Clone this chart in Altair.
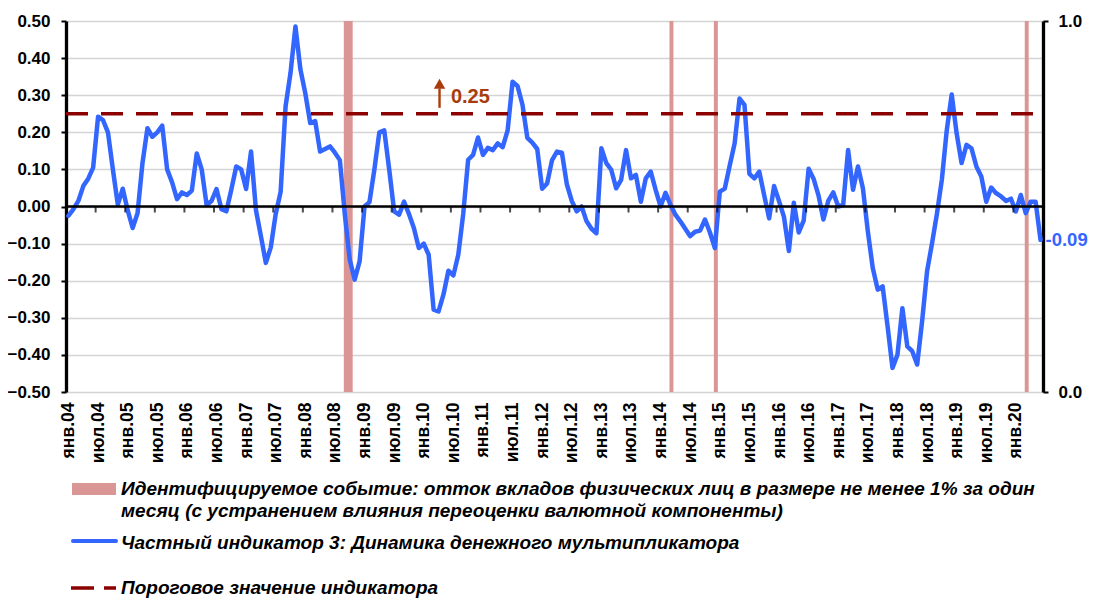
import json
import numpy as np
import pandas as pd
import altair as alt

# ---------------- data ----------------
start_month = "2004-01"

multiplier = [
    -0.025, -0.007, 0.015, 0.055, 0.075, 0.105, 0.242, 0.233, 0.200, 0.100, 0.005, 0.048,   # 2004
    -0.010, -0.058, -0.018, 0.117, 0.211, 0.188, 0.200, 0.218, 0.100, 0.065, 0.020, 0.038,  # 2005
    0.031, 0.043, 0.143, 0.100, 0.004, 0.015, 0.047, -0.007, -0.013, 0.045, 0.108, 0.100,   # 2006
    0.047, 0.148, -0.010, -0.080, -0.152, -0.110, -0.020, 0.040, 0.270, 0.360, 0.485, 0.370,  # 2007
    0.305, 0.225, 0.230, 0.148, 0.155, 0.162, 0.145, 0.125, -0.020, -0.143, -0.197, -0.148,  # 2008
    0.000, 0.012, 0.100, 0.200, 0.205, 0.100, -0.013, -0.022, 0.013, -0.020, -0.058, -0.112,  # 2009
    -0.100, -0.130, -0.278, -0.283, -0.237, -0.173, -0.186, -0.130, -0.020, 0.126, 0.139, 0.186,  # 2010
    0.139, 0.158, 0.152, 0.170, 0.160, 0.205, 0.336, 0.325, 0.275, 0.185, 0.172, 0.155,   # 2011
    0.048, 0.062, 0.125, 0.148, 0.145, 0.060, 0.015, -0.013, 0.000, -0.040, -0.060, -0.072,  # 2012
    0.157, 0.117, 0.099, 0.049, 0.072, 0.152, 0.076, 0.085, 0.013, 0.076, 0.094, 0.045,   # 2013
    0.000, 0.037, 0.005, -0.022, -0.040, -0.060, -0.080, -0.068, -0.065, -0.035, -0.070, -0.112,  # 2014
    0.040, 0.048, 0.110, 0.170, 0.291, 0.274, 0.088, 0.076, 0.094, 0.030, -0.032, 0.055,  # 2015
    0.015, -0.028, -0.120, 0.010, -0.070, -0.038, 0.102, 0.075, 0.030, -0.035, 0.016, 0.038,  # 2016
    0.000, 0.004, 0.152, 0.045, 0.108, 0.049, -0.067, -0.166, -0.224, -0.215, -0.323, -0.435,  # 2017
    -0.400, -0.274, -0.377, -0.390, -0.426, -0.309, -0.175, -0.100, -0.020, 0.072, 0.206, 0.302,  # 2018
    0.197, 0.117, 0.166, 0.157, 0.108, 0.081, 0.013, 0.051, 0.036, 0.027, 0.015, 0.021,  # 2019
    -0.013, 0.031, -0.018, 0.013, 0.013, -0.090,  # 2020
]

tick_labels = [
    "янв.04", "июл.04", "янв.05", "июл.05", "янв.06", "июл.06", "янв.07", "июл.07",
    "янв.08", "июл.08", "янв.09", "июл.09", "янв.10", "июл.10", "янв.11", "июл.11",
    "янв.12", "июл.12", "янв.13", "июл.13", "янв.14", "июл.14", "янв.15", "июл.15",
    "янв.16", "июл.16", "янв.17", "июл.17", "янв.18", "июл.18", "янв.19", "июл.19",
    "янв.20",
]

event_months = ["2008-09", "2008-10", "2014-03", "2014-12", "2020-03"]

threshold = 0.25
left_ticks = [-0.5, -0.4, -0.3, -0.2, -0.1, 0.0, 0.1, 0.2, 0.3, 0.4, 0.5]
right_ticks = [0.0, 1.0]

legend_texts = [
    "Идентифицируемое событие:  отток вкладов физических лиц в размере не менее 1% за один",
    "месяц (с устранением влияния переоценки валютной компоненты)",
    "Частный индикатор 3: Динамика денежного мультипликатора",
    "Пороговое значение индикатора",
]

# ---------------- styling ----------------
W, H = 977, 371
FONT = "Liberation Sans"
BLUE = "#3366FF"
DARKRED = "#8B0000"
EVENT = "#D99694"
ANNOT = "#A83C0C"

n = len(multiplier)
dates = pd.date_range(start_month, periods=n, freq="MS")
df = pd.DataFrame({"date": dates, "pos": np.arange(n) + 0.5, "value": multiplier})

p0 = pd.Period(start_month, "M")
ev_idx = sorted((pd.Period(m, "M") - p0).n for m in event_months)
spans = []
for k in ev_idx:
    if spans and k == spans[-1][1] + 1:
        spans[-1][1] = k
    else:
        spans.append([k, k])
ev_df = pd.DataFrame({
    "x0": [s[0] + 0.3 for s in spans],
    "x1": [s[1] + 1.1 for s in spans],
    "y0": [0.0] * len(spans),
    "y1": [1.0] * len(spans),
})

xs = alt.Scale(domain=[0, n], nice=False, zero=False)
ys = alt.Scale(domain=[-0.5, 0.5], nice=False, zero=False)
ys2 = alt.Scale(domain=[0, 1], nice=False, zero=False)

label_expr = json.dumps(tick_labels, ensure_ascii=False) + "[round((datum.value - 0.5) / 6)]"
x_axis = alt.Axis(
    values=[6 * k + 0.5 for k in range(len(tick_labels))],
    labelExpr=label_expr, labelAngle=-90, labelAlign="right", labelBaseline="middle",
    labelFont=FONT, labelFontSize=17.5, labelFontWeight="bold", labelColor="black",
    labelPadding=10, labelFlush=False, labelOverlap=False, labelBound=False,
    domain=False, ticks=False, tickSize=0, grid=False, title=None, orient="bottom",
)
y_axis = alt.Axis(
    orient="left", values=left_ticks, format=".2f",
    labelFont=FONT, labelFontSize=17, labelFontWeight="bold", labelColor="black",
    labelPadding=11, labelFlush=False,
    domain=True, domainColor="black", domainWidth=3.3,
    ticks=True, tickColor="black", tickWidth=2, tickSize=5,
    grid=True, gridColor="#D4D4D4", gridWidth=1.3, title=None,
)
y2_axis = alt.Axis(
    orient="right", values=right_ticks, format=".1f",
    labelFont=FONT, labelFontSize=17, labelFontWeight="bold", labelColor="black",
    labelPadding=10, labelFlush=False,
    domain=True, domainColor="black", domainWidth=3.3,
    ticks=True, tickColor="black", tickWidth=2, tickSize=5,
    grid=False, title=None,
)


def X(field):
    return alt.X(field, scale=xs, axis=x_axis)


def Y(field):
    return alt.Y(field, scale=ys, axis=y_axis)


events = alt.Chart(ev_df).mark_rect(color=EVENT).encode(
    x=X("x0:Q"), x2="x1:Q",
    y=alt.Y("y0:Q", scale=ys2, axis=y2_axis), y2="y1:Q",
)

thr_df = pd.DataFrame({"thr": [threshold]})
zero_df = pd.DataFrame({"z": [0.0]})
tick_df = pd.DataFrame({"b": [6 * k for k in range(1, len(tick_labels))], "z": 0.0})

line = alt.Chart(df).mark_line(color=BLUE, strokeWidth=4.5, strokeJoin="round", strokeCap="round").encode(
    x=X("pos:Q"), y=Y("value:Q"))

zero_line = alt.Chart(zero_df).mark_rule(color="black", strokeWidth=2.6).encode(
    y=Y("z:Q"), x=alt.value(0), x2=alt.value(W))
zero_ticks = alt.Chart(tick_df).mark_tick(orient="vertical", color="black", size=6, thickness=2, yOffset=3).encode(
    x=X("b:Q"), y=Y("z:Q"))
thr_line = alt.Chart(thr_df).mark_rule(color=DARKRED, strokeWidth=3.3, strokeDash=[22, 13]).encode(
    y=Y("thr:Q"), x=alt.value(0), x2=alt.value(W))

last_df = df.tail(1).assign(label=lambda d: d["value"].map(lambda v: f"{v:.2f}"))
end_label = alt.Chart(last_df).mark_text(
    align="left", baseline="middle", dx=5, font=FONT, fontSize=18.5, fontWeight="bold", color=BLUE
).encode(x=X("pos:Q"), y=Y("value:Q"), text="label:N")

# annotation "↑ 0.25"
ann_df = pd.DataFrame({"ax": [75.7], "a0": [0.266], "a1": [0.318], "ah": [0.331],
                       "tx": [78.0], "ty": [0.296], "t": [f"{threshold:.2f}"]})
arrow_shaft = alt.Chart(ann_df).mark_rule(color=ANNOT, strokeWidth=2.4).encode(
    x=X("ax:Q"), y=Y("a0:Q"), y2="a1:Q")
arrow_head = alt.Chart(ann_df).mark_point(shape="triangle-up", filled=True, size=130, color=ANNOT, opacity=1).encode(
    x=X("ax:Q"), y=Y("ah:Q"))
ann_text = alt.Chart(ann_df).mark_text(
    align="left", baseline="middle", font=FONT, fontSize=20, fontWeight="bold", color=ANNOT
).encode(x=X("tx:Q"), y=Y("ty:Q"), text="t:N")

# legend (below the plot, pixel layout)
one = pd.DataFrame({"k": [0]})
leg_rect = alt.Chart(one).mark_rect(color=EVENT).encode(
    x=alt.value(6), x2=alt.value(50), y=alt.value(462), y2=alt.value(474))
leg_blue = alt.Chart(one).mark_rule(color=BLUE, strokeWidth=4, strokeCap="round").encode(
    x=alt.value(7), x2=alt.value(50), y=alt.value(520))
leg_dash = alt.Chart(one).mark_rule(color=DARKRED, strokeWidth=3.3, strokeDash=[23, 10, 12, 40]).encode(
    x=alt.value(5), x2=alt.value(52), y=alt.value(567))
leg_df = pd.DataFrame({"t": legend_texts, "ly": [468, 490, 522, 567]})
leg_text = alt.Chart(leg_df).mark_text(
    align="left", baseline="middle", font=FONT, fontSize=19, fontWeight="bold", fontStyle="italic", color="black"
).encode(x=alt.value(55), y=alt.Y("ly:Q", scale=None, axis=None), text="t:N")

main = alt.layer(
    line, zero_line, zero_ticks, thr_line, end_label, arrow_shaft, arrow_head, ann_text,
    leg_rect, leg_blue, leg_dash, leg_text,
)

chart = alt.layer(events, main).resolve_scale(y="independent").properties(
    width=W, height=H,
    padding={"left": 58, "top": 13, "right": 45, "bottom": 207},
    autosize=alt.AutoSizeParams(type="none"),
).configure_view(strokeWidth=0).configure(background="white")

chart.save("out.html", embed_options={"renderer": "svg", "actions": False})
